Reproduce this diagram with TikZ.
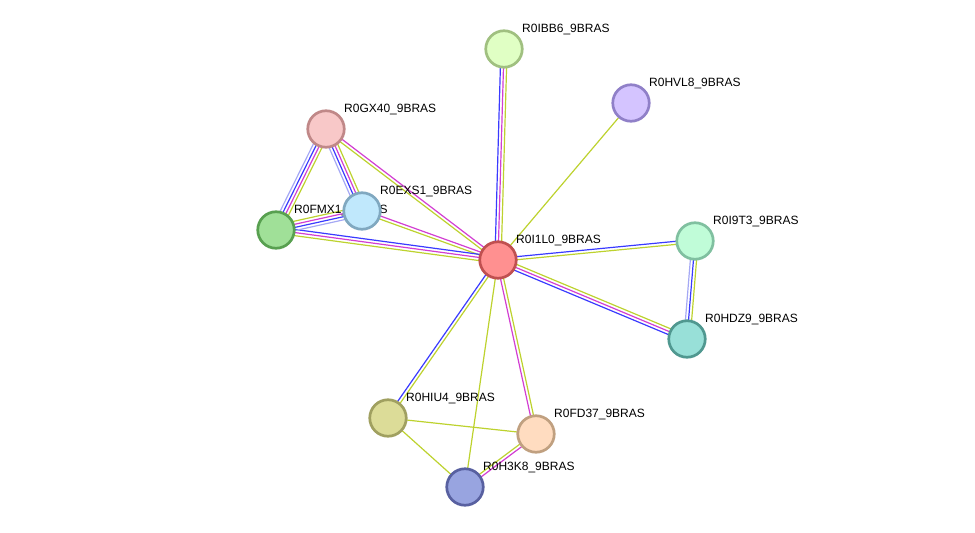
\documentclass[tikz,border=0pt]{standalone}
\usepackage{fontspec}
\setmainfont{Liberation Sans}
\usetikzlibrary{calc,backgrounds}
\definecolor{eblue}{HTML}{3A3AFF}
\definecolor{emag}{HTML}{D23ED2}
\definecolor{eyg}{HTML}{BDD22E}
\definecolor{elb}{HTML}{A4A8F4}
\tikzset{
  prot/.style={circle, minimum size=36.5pt, inner sep=0pt, line width=2.7pt},
  plabel/.style={anchor=base west, inner sep=0pt, font=\fontsize{12pt}{14pt}\selectfont, text=black},
  eline/.style={line width=1.2pt},
}
\newcommand\protnode[5]{% name, x, y, fill, stroke
  \definecolor{fill#1}{HTML}{#4}\definecolor{draw#1}{HTML}{#5}%
  \node[prot, fill=fill#1, draw=draw#1] (#1) at (#2,#3) {};
  \node[plabel] (#1-l) at ($(#1.center)+(18,-17)$) {#1\_9BRAS};
}
\newcommand\link[3]{%
  \foreach \c [count=\i] in {#3} {\xdef\nlines{\i}}%
  \foreach \c [count=\i] in {#3} {%
    \pgfmathsetmacro\off{((\nlines+1)/2-\i)*3.1}%
    \draw[eline, \c] ($(#1.center)!\off pt!90:(#2.center)$) -- ($(#2.center)!\off pt!-90:(#1.center)$);
  }%
}
\begin{document}
\begin{tikzpicture}[x=1pt,y=-1pt]
\useasboundingbox (0,0) rectangle (975,533);
\protnode{R0I1L0}{498}{260}{FF9090}{C05050}
\protnode{R0IBB6}{504}{49}{E0FFC4}{A0C080}
\protnode{R0HVL8}{631}{103}{D4C4FF}{9080C8}
\protnode{R0GX40}{326}{129}{F8C8C8}{C08888}
\protnode{R0FMX1}{276}{230}{A0E098}{58A050}
\protnode{R0EXS1}{362}{211}{C0E8FC}{80A8C0}
\protnode{R0I9T3}{695}{241}{C0FCD8}{80C0A0}
\protnode{R0HDZ9}{687}{339}{98E0D8}{509890}
\protnode{R0HIU4}{388}{418}{DCDC98}{A0A060}
\protnode{R0FD37}{536}{434}{FFDCC0}{C0A080}
\protnode{R0H3K8}{465}{487}{98A4E0}{5860A0}
\begin{pgfonlayer}{background}
\link{R0I1L0}{R0IBB6}{eblue,emag,eyg}
\link{R0I1L0}{R0HVL8}{eyg}
\link{R0GX40}{R0I1L0}{emag,eyg}
\link{R0EXS1}{R0I1L0}{emag,eyg}
\link{R0FMX1}{R0I1L0}{eblue,emag,eyg}
\link{R0I1L0}{R0I9T3}{eblue,eyg}
\link{R0I1L0}{R0HDZ9}{eyg,emag,eblue}
\link{R0HIU4}{R0I1L0}{eblue,eyg}
\link{R0FD37}{R0I1L0}{emag,eyg}
\link{R0I1L0}{R0H3K8}{eyg}
\link{R0FMX1}{R0GX40}{elb,eblue,emag,eyg}
\link{R0EXS1}{R0GX40}{elb,eblue,emag,eyg}
\link{R0FMX1}{R0EXS1}{eyg,emag,eblue,elb}
\link{R0HDZ9}{R0I9T3}{elb,eblue,eyg}
\link{R0HIU4}{R0FD37}{eyg}
\link{R0HIU4}{R0H3K8}{eyg}
\link{R0H3K8}{R0FD37}{eyg,emag}
\end{pgfonlayer}
\end{tikzpicture}
\end{document}
